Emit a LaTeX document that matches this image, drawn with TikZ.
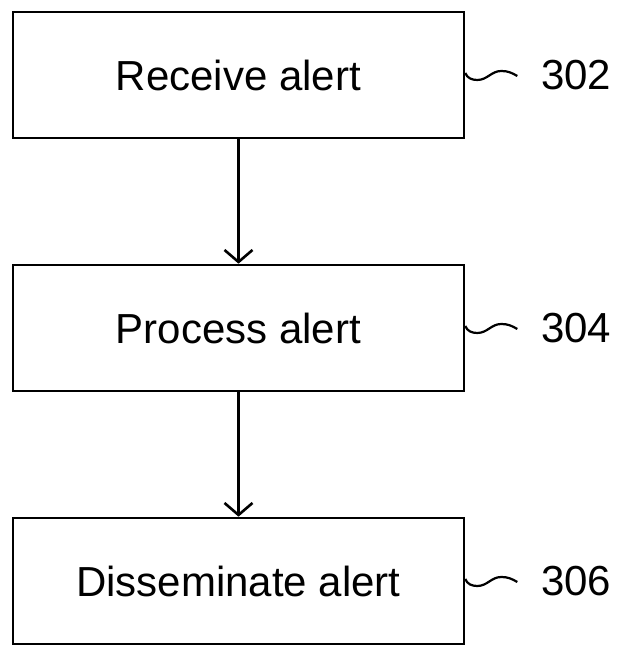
\documentclass[tikz,border=0pt]{standalone}
\usepackage{fontspec}
\setmainfont{Liberation Sans}
\usetikzlibrary{arrows.meta}
\tikzset{
  stepbox/.style={draw=black, line width=2.6pt, rectangle, minimum width=451pt, minimum height=126pt, inner sep=0pt, font=\fontsize{42}{50}\selectfont},
  reflabel/.style={inner sep=0pt, font=\fontsize{42}{50}\selectfont},
  flow/.style={line width=2.2pt, -{Straight Barb[length=12pt,width=28pt,line width=2.6pt]}},
  squiggle/.style={line width=2.2pt}
}
\begin{document}
\begin{tikzpicture}[x=1pt,y=1pt]
\useasboundingbox (0,0) rectangle (619,647);
\node[stepbox] (b1) at (238.5,572) {Receive alert};
\node[stepbox] (b2) at (238.5,319) {Process alert};
\node[stepbox] (b3) at (238.5,66) {Disseminate alert};
\draw[flow] (b1.south) -- (b2.north);
\draw[flow] (b2.south) -- (b3.north);
\foreach \b/\t in {b1/302, b2/304, b3/306} {
  \coordinate (\b s) at ([yshift=2pt]\b.east);
  \draw[squiggle] (\b s) to[out=-70,in=180] ++(12,-7) to[out=0,in=180] ++(24,9) to[out=0,in=150] ++(16,-5);
  \node[reflabel] (\b l) at ([xshift=111pt]\b.east) {\t};
}
\end{tikzpicture}
\end{document}
